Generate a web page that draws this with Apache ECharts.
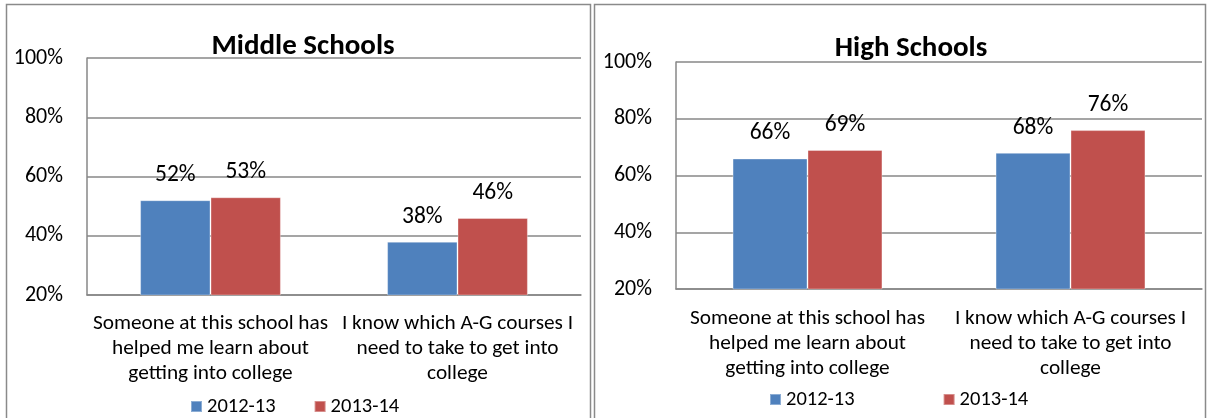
<!DOCTYPE html>
<html>
<head>
<meta charset="utf-8">
<style>
  html, body { margin: 0; padding: 0; background: #ffffff; }
  #chart { width: 1210px; height: 418px; }
</style>
<script src="https://cdn.jsdelivr.net/npm/echarts@6/dist/echarts.min.js"></script>
</head>
<body>
<div id="chart"></div>
<script>
// Survey items (category axis labels)
const categories = [
  'Someone at this school has\nhelped me learn about\ngetting into college',
  'I know which A-G courses I\nneed to take to get into\ncollege'
];
// School years shown in each panel
const years = ['2012-13', '2013-14'];
// Percent agreeing, middle schools
const middle2012 = [52, 38];
const middle2013 = [53, 46];
// Percent agreeing, high schools
const high2012 = [66, 68];
const high2013 = [69, 76];
// Value axis ticks
const yMin = 20, yMax = 100, yStep = 20;

const FONT = 'Carlito, Lato, "Liberation Sans", sans-serif';
const BLUE = '#4F81BD';
const RED = '#C0504D';
const GRID = '#878787';

const chart = echarts.init(document.getElementById('chart'), null, { renderer: 'canvas' });

function valueAxis(gridIndex) {
  return {
    type: 'value', gridIndex, min: yMin, max: yMax, interval: yStep,
    axisLine: { show: true, lineStyle: { color: GRID, width: 1.5 } },
    axisTick: { show: false },
    splitLine: { show: true, lineStyle: { color: GRID, width: 1.5 } },
    axisLabel: { formatter: '{value}%', color: '#000', fontFamily: FONT, fontSize: 22, margin: 24 }
  };
}
function categoryAxis(gridIndex, margin) {
  return {
    type: 'category', gridIndex, data: categories,
    axisLine: { show: true, lineStyle: { color: GRID, width: 1.5 } },
    axisTick: { show: false },
    axisLabel: { interval: 0, color: '#000', fontFamily: FONT, fontSize: 21.3, lineHeight: 25, margin }
  };
}
function barSeries(name, data, color, idx) {
  return {
    type: 'bar', name, data, xAxisIndex: idx, yAxisIndex: idx,
    barGap: '0%', barCategoryGap: '43%',
    itemStyle: { color, borderColor: 'rgba(255,255,255,0.35)', borderWidth: 1 },
    label: { show: true, position: 'top', distance: 13, formatter: '{c}%',
             color: '#000', fontFamily: FONT, fontSize: 23.5 }
  };
}
function legend(left, top, gap) {
  return {
    data: years, left, top, padding: 0, itemWidth: 11, itemHeight: 11, itemGap: gap,
    icon: 'rect', textStyle: { fontFamily: FONT, fontSize: 20.5, color: '#000' }
  };
}

chart.setOption({
  animation: false,
  backgroundColor: '#ffffff',
  title: [
    { text: 'Middle Schools', left: 298, top: 27, textAlign: 'center',
      textStyle: { fontFamily: FONT, fontSize: 29, fontWeight: 'bold', color: '#000' } },
    { text: 'High Schools', left: 906, top: 29, textAlign: 'center',
      textStyle: { fontFamily: FONT, fontSize: 29, fontWeight: 'bold', color: '#000' } }
  ],
  legend: [
    legend(190, 396, 38),
    legend(769, 389, 88)
  ],
  grid: [
    { left: 87, top: 58, width: 494, height: 237 },
    { left: 676, top: 62, width: 526, height: 227 }
  ],
  xAxis: [categoryAxis(0, 16), categoryAxis(1, 17)],
  yAxis: [valueAxis(0), valueAxis(1)],
  series: [
    barSeries(years[0], middle2012, BLUE, 0),
    barSeries(years[1], middle2013, RED, 0),
    barSeries(years[0], high2012, BLUE, 1),
    barSeries(years[1], high2013, RED, 1)
  ],
  graphic: [
    // panel frames
    { type: 'rect', silent: true, shape: { x: 6.5, y: 4.5, width: 584, height: 430 },
      style: { fill: null, stroke: '#8a8a8a', lineWidth: 1.5 } },
    { type: 'rect', silent: true, shape: { x: 594.5, y: 4.5, width: 611, height: 430 },
      style: { fill: null, stroke: '#8a8a8a', lineWidth: 1.5 } }
  ]
});
</script>
</body>
</html>
